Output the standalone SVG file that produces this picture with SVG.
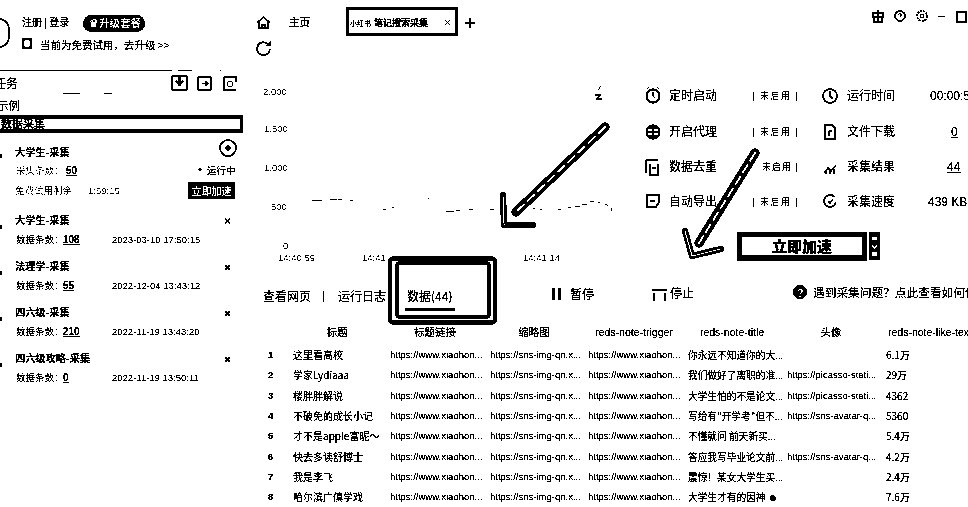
<svg xmlns="http://www.w3.org/2000/svg" width="968" height="507" viewBox="0 0 968 507">
<style>
text{font-family:"Liberation Sans","Noto Sans CJK SC",sans-serif;fill:#000;font-size:11px}
.c{font-family:"Noto Sans CJK SC","Liberation Sans",sans-serif}
.s{font-size:9.5px;fill:#333}
.d{font-size:9.5px;fill:#222}
.n{font-size:9.5px;font-weight:700}
.g{font-size:9.5px;fill:#444}
.ax{font-size:9.5px;fill:#666}
.off{font-size:9px;fill:#555}
.st{font-size:12px}
.zh{font-size:9.7px}
.nm{font-size:10px}
.h{font-size:10.5px}
.u{text-decoration:underline}
.m{text-anchor:middle}
.ti{font-size:10.2px;font-weight:700}
.ln{fill:none;stroke:#000;stroke-width:1.5}
.arr{fill:none;stroke:#000;stroke-width:9;stroke-linecap:round;stroke-linejoin:round}
.arr2{fill:none;stroke:#fff;stroke-width:2;stroke-linecap:round;stroke-linejoin:round;stroke-dasharray:9 5}
.hd{fill:none;stroke:#000;stroke-width:6;stroke-linecap:round;stroke-linejoin:round}
.hd2{fill:none;stroke:#fff;stroke-width:1.2;stroke-linecap:round;stroke-linejoin:round}
.b{fill:none;stroke:#000;stroke-width:3}
.x{stroke:#000;stroke-width:1.5}
</style>
<defs>
<filter id="bin" filterUnits="userSpaceOnUse" x="0" y="0" width="968" height="507" color-interpolation-filters="sRGB">
<feColorMatrix type="saturate" values="0"/>
<feComponentTransfer><feFuncR type="discrete" tableValues="0 0 1"/><feFuncG type="discrete" tableValues="0 0 1"/><feFuncB type="discrete" tableValues="0 0 1"/></feComponentTransfer>
</filter>
</defs>
<rect width="968" height="507" fill="#fff"/>
<g filter="url(#bin)">
<rect width="968" height="507" fill="#fff"/>

<g id="account">
<path class="ln" d="M0 19a10 10 0 0 1 9 10v8a10 10 0 0 1-9 10"/>
<text class="c" x="22" y="26" style="font-size:10px">注册 | 登录</text>
<rect x="83" y="15" width="62" height="17" rx="8.5" fill="#000"/>
<text class="c" x="89" y="27" style="font-size:10.5px;fill:#fff;font-weight:700">♛升级套餐</text>
<rect x="23" y="39" width="8" height="9" fill="none" stroke="#000" stroke-width="2.5"/>
<text class="c" x="40" y="49" style="font-size:10.5px">当前为免费试用，去升级 &gt;&gt;</text>
<path d="M0 70.500H172M178 70.500H192M220 70.500H221" stroke="#000" stroke-width="1"/>
</g>

<g id="toolbar">
<text class="c" x="-6" y="88" style="font-size:12px">任务</text>
<rect x="172" y="76" width="15" height="14" rx="1" fill="none" stroke="#000" stroke-width="2"/>
<path d="M179.500 76v8M176 81l3.500 4 3.500-4" fill="none" stroke="#000" stroke-width="2"/>
<rect x="198" y="77" width="13" height="13" rx="1" fill="none" stroke="#000" stroke-width="1.500"/>
<path d="M202 83.500h5M205 81l3 2.500-3 2.500" fill="none" stroke="#000" stroke-width="1.500"/>
<path d="M224 77h12v5M224 77v13h12" fill="none" stroke="#000" stroke-width="1.500"/>
<circle cx="230" cy="84" r="3" fill="none" stroke="#000"/>
<path d="M63 93.500H80M104 93.500H112" stroke="#000"/>
<text class="c" x="-3" y="110" style="font-size:11.5px">示例</text>
</g>

<g id="group-selected">
<rect x="-3" y="117" width="244.500" height="14" fill="#fff" stroke="#000" stroke-width="3"/>
<text class="c" x="1" y="128" style="font-size:11px;font-weight:700">数据采集</text>
</g>

<g id="task-1">
<rect x="0" y="154" width="2" height="4" fill="#000"/>
<text class="c ti" x="15" y="156">大学生-采集</text>
<circle cx="228" cy="148" r="8" fill="none" stroke="#000" stroke-width="1.500"/>
<circle cx="228" cy="148" r="2.500" fill="#000"/>
<text class="c g" x="16" y="174" style="fill:#777">采集条数：</text>
<text x="66" y="174" class="u" style="font-size:10px;font-weight:700">50</text>
<circle cx="200" cy="169.500" r="1.500" fill="#000"/>
<text class="c" x="207" y="174" style="font-size:9.5px">运行中</text>
<text class="c g" x="15" y="194" style="fill:#777">免费试用剩余</text>
<text x="88" y="194" class="s" style="fill:#777">1:59:15</text>
<rect x="188" y="182" width="47" height="17" rx="2" fill="#000"/>
<text class="c" x="211.500" y="194.500" style="font-size:10px;fill:#fff;font-weight:700;text-anchor:middle">立即加速</text>
</g>

<g id="task-2">
<rect x="0" y="225" width="2" height="4" fill="#000"/>
<text class="c ti" x="15" y="224">大学生-采集</text>
<path class="x" d="M225 218.500l5 5M230 218.500l-5 5"/>
<text class="c g" x="16" y="243">数据条数：</text>
<text x="63" y="243" class="u" style="font-size:10px;font-weight:700">108</text>
<text x="112" y="243" class="s">2023-03-10 17:50:15</text>
</g>

<g id="task-3">
<rect x="0" y="271" width="2" height="4" fill="#000"/>
<text class="c ti" x="15" y="270">法理学-采集</text>
<path class="x" d="M225 265l5 5M230 265l-5 5"/>
<text class="c g" x="16" y="289">数据条数：</text>
<text x="63" y="289" class="u" style="font-size:10px;font-weight:700">55</text>
<text x="112" y="289" class="s">2022-12-04 13:43:12</text>
</g>

<g id="task-4">
<rect x="0" y="317" width="2" height="4" fill="#000"/>
<text class="c ti" x="15" y="316">四六级-采集</text>
<path class="x" d="M225 311l5 5M230 311l-5 5"/>
<text class="c g" x="16" y="335">数据条数：</text>
<text x="63" y="335" class="u" style="font-size:10px;font-weight:700">210</text>
<text x="112" y="335" class="s">2022-11-19 13:43:20</text>
</g>

<g id="task-5">
<rect x="0" y="363" width="2" height="4" fill="#000"/>
<text class="c ti" x="15" y="362">四六级攻略-采集</text>
<path class="x" d="M225 357l5 5M230 357l-5 5"/>
<text class="c g" x="16" y="381">数据条数：</text>
<text x="63" y="381" class="u" style="font-size:10px;font-weight:700">0</text>
<text x="112" y="381" class="s">2022-11-19 13:50:11</text>
</g>

<g id="tabs">
<path d="M257 23l6.500-6 6.500 6M259 22v6h9v-6M262 28v-3h3v3" fill="none" stroke="#000" stroke-width="1.500"/>
<text class="c" x="289" y="26" style="font-size:10.5px;font-weight:500">主页</text>
<rect x="347.500" y="8.500" width="109" height="26" fill="none" stroke="#000" stroke-width="3"/>
<text class="c" x="350" y="26" style="font-size:7px;fill:#222">小红书</text>
<text class="c" x="374" y="26" style="font-size:9px;font-weight:700">笔记搜索采集</text>
<path d="M445 20l5 5M450 20l-5 5" stroke="#555"/>
<path d="M470 18v10M465 23h10" stroke="#000" stroke-width="1.500"/>
<path d="M270 49a6.500 6.500 0 1 1-1.500-4.500" fill="none" stroke="#000" stroke-width="1.500"/>
<path d="M266 46h5v-5z" fill="#000"/>
</g>

<g id="window-controls">
<rect x="873" y="13" width="10" height="4" fill="none" stroke="#000" stroke-width="1.500"/>
<rect x="874" y="17" width="8" height="5" fill="none" stroke="#000" stroke-width="1.500"/>
<path d="M878 10v12" stroke="#000"/>
<circle cx="900" cy="16" r="5" fill="none" stroke="#000" stroke-width="1.300"/>
<path d="M898.500 14.500a1.500 1.500 0 1 1 1.500 2v1M900 18.500v1" fill="none" stroke="#000"/>
<circle cx="922" cy="16" r="5" fill="none" stroke="#000" stroke-width="1.500" stroke-dasharray="2 1"/>
<circle cx="922" cy="16" r="2" fill="none" stroke="#000"/>
<path d="M938 16.500h7" stroke="#000" stroke-width="1.500"/>
<rect x="957" y="12" width="9" height="10" fill="none" stroke="#000" stroke-width="1.500"/>
</g>

<g id="chart">
<text class="ax" x="263" y="95">2,000</text>
<text class="ax" x="264" y="132">1,500</text>
<text class="ax" x="264" y="171">1,000</text>
<text class="ax" x="271" y="210">500</text>
<text class="ax" x="283" y="249">0</text>
<text class="ax" x="278" y="261">14:40:59</text>
<text class="ax" x="362" y="261">14:41</text>
<text class="ax" x="523" y="261">14:41:14</text>
<path d="M595 95h6l-5 4h6M601 86l-3 4" fill="none" stroke="#333" stroke-width="1"/>
<path d="M312 201l10-1M330 199l7 1M338 199h4M350 200l3 1M383 210l3-1M392 208l2-1M428 198h1M446 211h8M456 210h4M469 209h4M490 209h4M533 209l2-1M540 210l2-1M558 210l3-1M568 207l3 1M575 206l5 1M582 205l5-1M590 202l4-1M598 202l2 1M605 204l3 2M611 208l1 3" fill="none" stroke="#555" stroke-width="1"/>
</g>

<g id="stats">
<circle cx="653" cy="96" r="6.500" fill="none" stroke="#000" stroke-width="1.800"/>
<path d="M653 92v4l2.500 2M647 89l2-2M659 89l-2-2" fill="none" stroke="#000"/>
<text class="c st" x="669" y="100">定时启动</text>
<text class="c off" x="752" y="99" textLength="46">[ 未启用 ]</text>
<circle cx="653" cy="132" r="6.500" fill="none" stroke="#000" stroke-width="1.800"/>
<path d="M647 132h12M653 126v12M648 128h10M648 136h10" stroke="#000"/>
<text class="c st" x="669" y="136">开启代理</text>
<text class="c off" x="752" y="135" textLength="46">[ 未启用 ]</text>
<path d="M646 160h12M646 160v13M650 164v11h8v-11M652 168h4" fill="none" stroke="#000" stroke-width="1.300"/>
<text class="c st" x="669" y="171">数据去重</text>
<text class="c off" x="762" y="170" textLength="36">未启用 ]</text>
<path d="M647 195h12v7l-3 5h-9zM650 201h5" fill="none" stroke="#000" stroke-width="1.700"/>
<text class="c st" x="669" y="206">自动导出</text>
<text class="c off" x="752" y="205" textLength="46">[ 未启用 ]</text>

<circle cx="830" cy="96" r="7" fill="none" stroke="#000" stroke-width="1.500"/>
<path d="M830 91v5l3 3" fill="none" stroke="#000" stroke-width="1.300"/>
<text class="c st" x="847" y="100">运行时间</text>
<text class="st" x="930" y="100">00:00:5</text>
<path d="M825 125h7l3 3v11h-10zM829 131h3M829 131v5" fill="none" stroke="#000" stroke-width="1.300"/>
<text class="c st" x="847" y="136">文件下载</text>
<text x="951" y="136" class="u st">0</text>
<path d="M824 173l4-5 3 3 5-6M826 174v-3M830 174v-3M834 174v-5" fill="none" stroke="#000" stroke-width="1.300"/>
<text class="c st" x="847" y="171">采集结果</text>
<text x="947" y="171" class="u st">44</text>
<circle cx="830" cy="201" r="6" fill="none" stroke="#000" stroke-width="1.500" stroke-dasharray="26 6" transform="rotate(60 830 201)"/>
<path d="M828 201l2 2 3-4" fill="none" stroke="#000" stroke-width="1.300"/>
<text class="c st" x="847" y="206">采集速度</text>
<text class="st" x="928" y="206">439 KB</text>
</g>

<g id="boost-button">
<rect x="739.500" y="234.500" width="125" height="23.500" fill="#fff" stroke="#000" stroke-width="5"/>
<text class="c" x="802" y="252" style="font-size:15px;font-weight:900;text-anchor:middle">立即加速</text>
<rect x="869" y="232" width="11" height="28" fill="#000"/>
<path d="M872 245l2.500 3 2.500-3" fill="none" stroke="#fff" stroke-width="1.500"/>
<rect x="872" y="237" width="5" height="3" fill="#fff"/>
<rect x="872" y="252" width="5" height="4" fill="#fff"/>
</g>

<g id="panel-tabs">
<text class="c st" x="263" y="301">查看网页</text>
<path d="M323.500 291v11" stroke="#333"/>
<text class="c st" x="338" y="301">运行日志</text>
<text class="c st" x="407" y="301">数据(44)</text>
<path d="M405 309.500h50" stroke="#000" stroke-width="2"/>
<rect x="552" y="288" width="3" height="12" fill="#000"/><rect x="558" y="288" width="3" height="12" fill="#000"/>
<text class="c st" x="570" y="299">暂停</text>
<path d="M652 290h15M654 293v8M665 293v8" fill="none" stroke="#000" stroke-width="1.500"/>
<text class="c st" x="670" y="298">停止</text>
<circle cx="800" cy="292" r="7" fill="#000"/>
<text x="800" y="296.500" style="font-size:11px;fill:#fff;font-weight:700;text-anchor:middle">?</text>
<text class="c" x="813" y="297" style="font-size:11.700px">遇到采集问题？点此查看如何使用</text>
</g>

<g id="data-table">
<text class="c m h" x="337" y="336">标题</text>
<text class="c m h" x="435" y="336">标题链接</text>
<text class="c m h" x="534" y="336">缩略图</text>
<text class="m h" x="634" y="336">reds-note-trigger</text>
<text class="m h" x="732" y="336">reds-note-title</text>
<text class="c m h" x="831" y="336">头像</text>
<text class="h" x="888" y="336">reds-note-like-tex</text>
<g>
<text class="n" x="268" y="358">1</text><text class="c nm" x="293" y="359">这里看高校</text>
<text class="n" x="268" y="378">2</text><text class="c nm" x="293" y="379">学家Lydiaaa</text>
<text class="n" x="268" y="399">3</text><text class="c nm" x="293" y="400">楼胖胖解说</text>
<text class="n" x="268" y="419">4</text><text class="c nm" x="293" y="420">不破免的成长小记</text>
<text class="n" x="268" y="439">5</text><text class="c nm" x="293" y="440">才不是apple富昵～</text>
<text class="n" x="268" y="460">6</text><text class="c nm" x="293" y="461">快去多读舒博士</text>
<text class="n" x="268" y="480">7</text><text class="c nm" x="293" y="481">我是李飞</text>
<text class="n" x="268" y="500">8</text><text class="c nm" x="293" y="501">哈尔滨广傎学戏</text>
</g>
<g>
<text class="d" x="390" y="358">https://www.xiaohon...</text><text class="d" x="490" y="358">https://sns-img-qn.x...</text><text class="d" x="588" y="358">https://www.xiaohon...</text>
<text class="d" x="390" y="378">https://www.xiaohon...</text><text class="d" x="490" y="378">https://sns-img-qn.x...</text><text class="d" x="588" y="378">https://www.xiaohon...</text>
<text class="d" x="390" y="399">https://www.xiaohon...</text><text class="d" x="490" y="399">https://sns-img-qn.x...</text><text class="d" x="588" y="399">https://www.xiaohon...</text>
<text class="d" x="390" y="419">https://www.xiaohon...</text><text class="d" x="490" y="419">https://sns-img-qn.x...</text><text class="d" x="588" y="419">https://www.xiaohon...</text>
<text class="d" x="390" y="439">https://www.xiaohon...</text><text class="d" x="490" y="439">https://sns-img-qn.x...</text><text class="d" x="588" y="439">https://www.xiaohon...</text>
<text class="d" x="390" y="460">https://www.xiaohon...</text><text class="d" x="490" y="460">https://sns-img-qn.x...</text><text class="d" x="588" y="460">https://www.xiaohon...</text>
<text class="d" x="390" y="480">https://www.xiaohon...</text><text class="d" x="490" y="480">https://sns-img-qn.x...</text><text class="d" x="588" y="480">https://www.xiaohon...</text>
<text class="d" x="390" y="500">https://www.xiaohon...</text><text class="d" x="490" y="500">https://sns-img-qn.x...</text><text class="d" x="588" y="500">https://www.xiaohon...</text>
</g>
<g>
<text class="c zh" x="688" y="359">你永远不知道你的大...</text>
<text class="c zh" x="688" y="379">我们做好了离职的准...</text>
<text class="c zh" x="688" y="400">大学生怕的不是论文...</text>
<text class="c zh" x="688" y="420">写给有"开学考"但不...</text>
<text class="c zh" x="688" y="440">不懂就问 前天新买...</text>
<text class="c zh" x="688" y="461">答应我写毕业论文前...</text>
<text class="c zh" x="688" y="481">震惊！某女大学生买...</text>
<text class="c zh" x="688" y="501">大学生才有的因神 ☻</text>
</g>
<g>
<text class="d" x="787" y="378">https://picasso-stati...</text>
<text class="d" x="787" y="399">https://picasso-stati...</text>
<text class="d" x="787" y="419">https://sns-avatar-q...</text>
<text class="d" x="787" y="460">https://sns-avatar-q...</text>
</g>
<g>
<text class="c nm" x="886" y="359">6.1万</text>
<text class="c nm" x="886" y="379">29万</text>
<text class="c nm" x="886" y="400">4362</text>
<text class="c nm" x="886" y="420">5360</text>
<text class="c nm" x="886" y="440">5.4万</text>
<text class="c nm" x="886" y="461">4.2万</text>
<text class="c nm" x="886" y="481">2.4万</text>
<text class="c nm" x="886" y="501">7.6万</text>
</g>
</g>

<g id="connectors">
<path class="arr" d="M605 127L516 212"/>
<path class="arr2" d="M605 127L516 212"/>
<path class="hd" d="M503 195L504 225H533"/>
<path class="hd2" d="M503 195L504 225H533"/>
<path class="arr" d="M755 153L699 243"/>
<path class="arr2" d="M755 153L699 243"/>
<path class="hd" d="M685 231L692 256L721 249"/>
<path class="hd2" d="M685 231L692 256L721 249"/>
<rect x="390" y="258.500" width="105" height="64" rx="3" class="b" style="stroke-width:4"/>
<rect x="397" y="263" width="92" height="54" rx="2" class="b"/>
</g>
</g>
</svg>
